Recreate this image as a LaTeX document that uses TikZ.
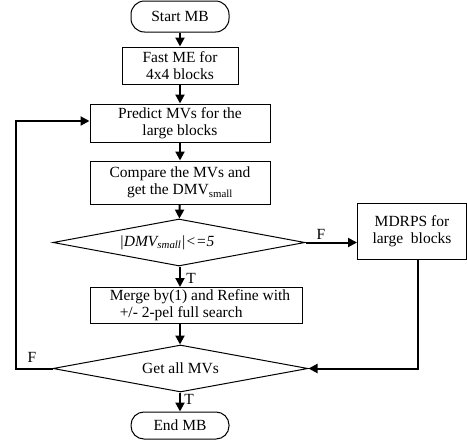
\documentclass[tikz,border=0pt]{standalone}
\usepackage{fontspec}
\setmainfont{Liberation Serif}
\usetikzlibrary{shapes.geometric,arrows.meta}
\begin{document}
\begin{tikzpicture}[x=1pt,y=-1pt,
  txt/.style={font=\fontsize{15.5}{17.5}\selectfont},
  box/.style={draw, line width=1pt, inner sep=0pt, txt, align=center},
  term/.style={box, rounded corners=13.5pt},
  dia/.style={draw, diamond, line width=1pt, inner sep=0pt, txt, align=center},
  conn/.style={line width=2pt, -{Triangle[length=9pt,width=9pt]}},
  lab/.style={txt, inner sep=0pt}]
\useasboundingbox (0,0) rectangle (467,442);
\node[term, minimum width=98, minimum height=31] (start) at (180,16.5) {Start MB};
\node[box, minimum width=116, minimum height=37] (fast) at (180,65.5) {Fast ME for\\4x4 blocks};
\node[box, minimum width=180, minimum height=38] (predict) at (180,123) {Predict MVs for the\\large blocks};
\node[box, minimum width=180, minimum height=43] (compare) at (180,182.5) {Compare the MVs and\\get the DMV\textsubscript{small}};
\node[dia, aspect=5.36, minimum width=252, minimum height=47] (d1) at (179,242.5) {};
\node[lab] (d1t) at (167,242.5) {\textit{|DMV\textsubscript{small}|<=5}};
\node[box, minimum width=109, minimum height=56] (mdrps) at (412,231) {MDRPS for\\large\ \ blocks};
\node[box, minimum width=212, minimum height=36, align=left] (merge) at (196,305) {\hspace*{8pt}Merge by(1) and Refine with\\\hspace*{18pt}+/- 2-pel full search};
\node[dia, aspect=5.43, minimum width=255, minimum height=47] (d2) at (180.5,368.5) {Get all MVs};
\node[term, minimum width=98, minimum height=27, rounded corners=13pt] (end) at (180,425.5) {End MB};
\coordinate (m0) at (180,287);
\coordinate (m1) at (180,323);
\coordinate (c1) at (418,368.5);
\coordinate (c2) at (16,368.5);
\coordinate (c3) at (16,121);
\draw[conn] (start) -- (fast);
\draw[conn] (fast) -- (predict);
\draw[conn] (predict) -- (compare);
\draw[conn] (compare) -- (d1);
\draw[conn] (d1.south -| m0) -- (m0);
\draw[conn] (d1.east) -- (d1.east -| mdrps.west);
\draw[conn] (m1) -- (d2.north -| m1);
\draw[conn] (d2.south -| m1) -- (end.north -| m1);
\draw[conn] (mdrps.south -| c1) -- (c1) -- (d2.east);
\draw[conn] (d2.west) -- (c2) -- (c3) -- (c3 -| predict.west);
\node[lab] (lf1) at (321,234) {F};
\node[lab] (lt1) at (191,278) {T};
\node[lab] (lf2) at (32,357) {F};
\node[lab] (lt2) at (189,399) {T};
\end{tikzpicture}
\end{document}
